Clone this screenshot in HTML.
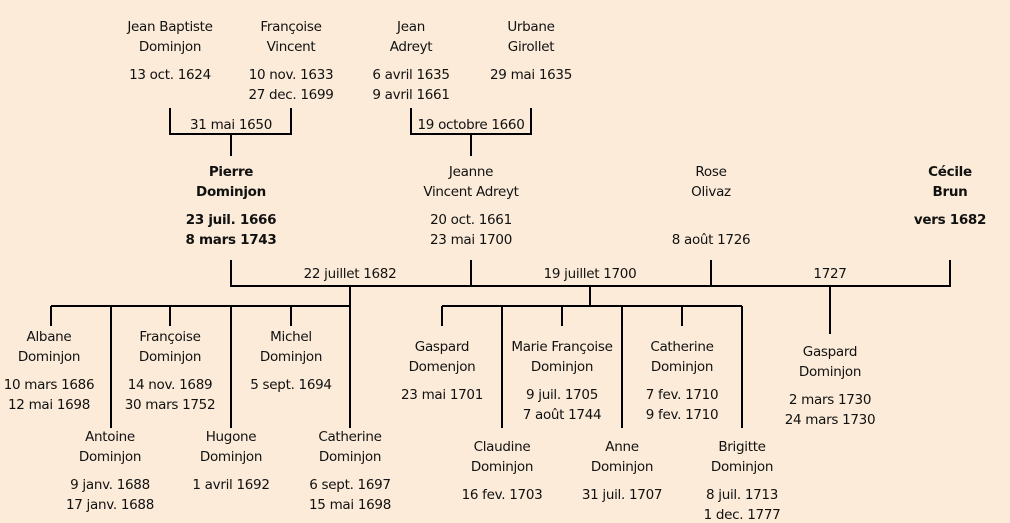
<!DOCTYPE html>
<html><head><meta charset="utf-8"><style>
body{margin:0;width:1010px;height:521px;background:#FBEBD8;position:relative;overflow:hidden;font-family:"DejaVu Sans","Liberation Sans",sans-serif;font-size:13.5px;color:#111}
.t{position:absolute;width:240px;margin-left:-120px;text-align:center;line-height:14px;white-space:nowrap;letter-spacing:-0.3px}
.b{font-weight:bold}
svg{position:absolute;left:0;top:0}
</style></head><body>
<svg width="1010" height="521"><g stroke="#000" stroke-width="2" fill="none">
<path d="M170 108V134H291V108M231 134V156"/>
<path d="M411 108V134H531V108M471 134V156"/>
<path d="M231 260V286H950V260M471 260V286M711 260V286"/>
<path d="M350 286V306M590 286V306M830 286V334"/>
<path d="M51 306H350M51 306V326M111 306V428M170 306V326M231 306V428M291 306V326M350 306V428"/>
<path d="M442 306H742M442 306V326M502 306V428M562 306V326M622 306V428M682 306V326M742 306V428"/>
</g></svg>
<div id="c"></div>
<script>
var d=[
[170,20,["Jean Baptiste","Dominjon"],["13 oct. 1624"]],
[291,20,["Françoise","Vincent"],["10 nov. 1633","27 dec. 1699"]],
[411,20,["Jean","Adreyt"],["6 avril 1635","9 avril 1661"]],
[531,20,["Urbane","Girollet"],["29 mai 1635"]],
[231,165,["Pierre","Dominjon"],["23 juil. 1666","8 mars 1743"],1],
[471,165,["Jeanne","Vincent Adreyt"],["20 oct. 1661","23 mai 1700"]],
[711,165,["Rose","Olivaz"],["","8 août 1726"]],
[950,165,["Cécile","Brun"],["vers 1682"],1],
[49,330,["Albane","Dominjon"],["10 mars 1686","12 mai 1698"]],
[170,330,["Françoise","Dominjon"],["14 nov. 1689","30 mars 1752"]],
[291,330,["Michel","Dominjon"],["5 sept. 1694"]],
[110,430,["Antoine","Dominjon"],["9 janv. 1688","17 janv. 1688"]],
[231,430,["Hugone","Dominjon"],["1 avril 1692"]],
[350,430,["Catherine","Dominjon"],["6 sept. 1697","15 mai 1698"]],
[442,340,["Gaspard","Domenjon"],["23 mai 1701"]],
[562,340,["Marie Françoise","Dominjon"],["9 juil. 1705","7 août 1744"]],
[682,340,["Catherine","Dominjon"],["7 fev. 1710","9 fev. 1710"]],
[502,440,["Claudine","Dominjon"],["16 fev. 1703"]],
[622,440,["Anne","Dominjon"],["31 juil. 1707"]],
[742,440,["Brigitte","Dominjon"],["8 juil. 1713","1 dec. 1777"]],
[830,345,["Gaspard","Dominjon"],["2 mars 1730","24 mars 1730"]]
];
var h="";
d.forEach(function(e){
 var y=e[1],cl=e[4]?"t b":"t";
 e[2].forEach(function(s,i){h+='<div class="'+cl+'" style="left:'+e[0]+'px;top:'+(y+i*20)+'px">'+s+'</div>';});
 e[3].forEach(function(s,i){if(s)h+='<div class="'+cl+'" style="left:'+e[0]+'px;top:'+(y+48+i*20)+'px">'+s+'</div>';});
});
[[231,118,"31 mai 1650"],[471,118,"19 octobre 1660"],[350,267,"22 juillet 1682"],[590,267,"19 juillet 1700"],[830,267,"1727"]].forEach(function(e){
 h+='<div class="t" style="left:'+e[0]+'px;top:'+e[1]+'px">'+e[2]+'</div>';});
document.getElementById("c").innerHTML=h;
</script>
</body></html>
